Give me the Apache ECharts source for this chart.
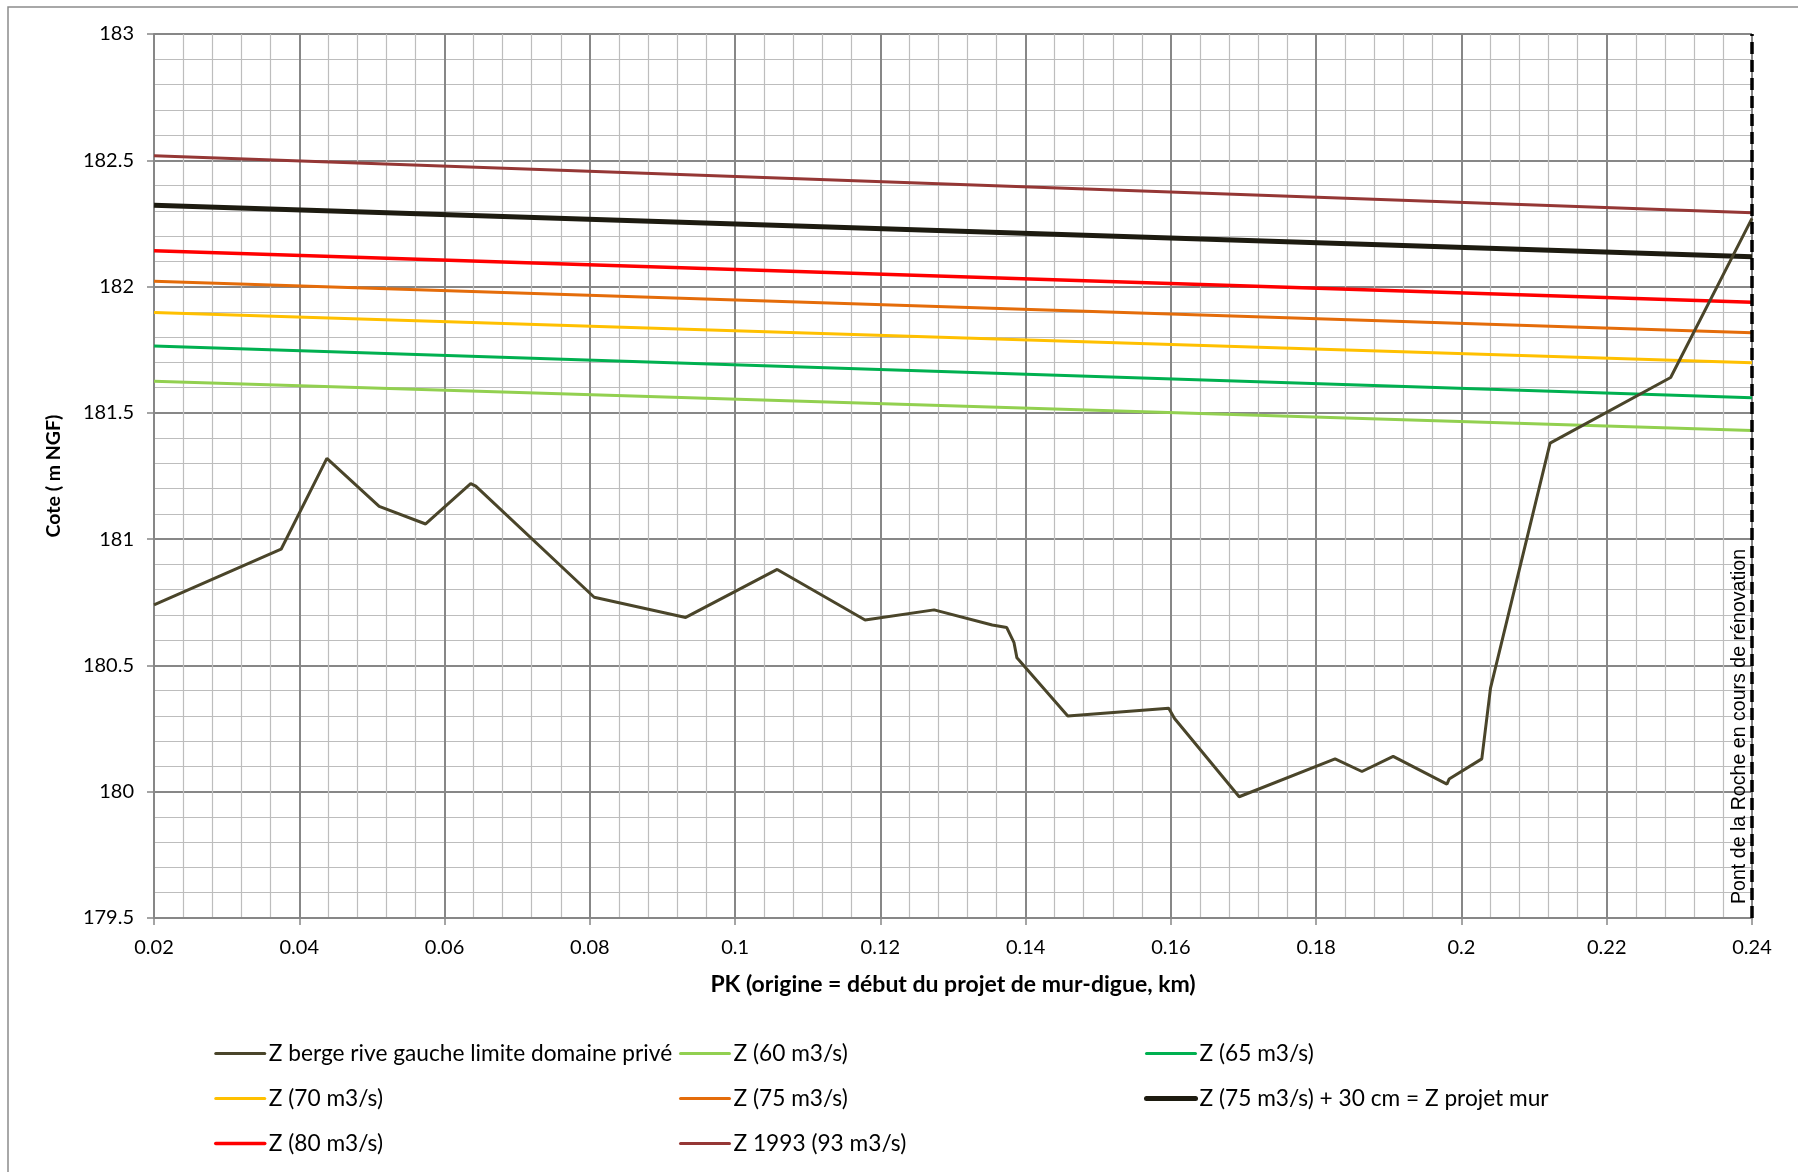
<!DOCTYPE html>
<html><head><meta charset="utf-8">
<script src="https://cdn.jsdelivr.net/npm/echarts@6/dist/echarts.min.js"></script>
<style>html,body{margin:0;padding:0;background:#fff}#c{width:1798px;height:1172px}</style>
</head><body><div id="c"></div>
<script>
// Bank profile (left bank limit of private property)
const pkBerge = [0.02,0.0375,0.0438,0.0510,0.0574,0.0636,0.0643,0.0806,0.0932,0.1058,0.1179,0.1274,0.1354,0.1374,0.1384,0.1388,0.1458,0.1597,0.1605,0.1694,0.1826,0.1863,0.1906,0.1980,0.1983,0.2028,0.2040,0.2122,0.2288,0.2400];
const zBerge = [180.74,180.96,181.32,181.13,181.06,181.22,181.21,180.77,180.69,180.88,180.68,180.72,180.66,180.65,180.59,180.53,180.30,180.33,180.29,179.98,180.13,180.08,180.14,180.03,180.05,180.13,180.41,181.38,181.64,182.27];
// Water levels
const pkFlood = [0.02, 0.24];
const z60 = [181.625, 181.430];
const z65 = [181.765, 181.560];
const z70 = [181.897, 181.698];
const z75 = [182.021, 181.817];
const zMur = [182.322, 182.118];
const z80 = [182.142, 181.938];
const z1993 = [182.518, 182.292];
const bridgePK = 0.24;
const bridgeLabel = 'Pont de la Roche en cours de rénovation';

const names = {
  berge: 'Z berge rive gauche limite domaine privé',
  q60: 'Z (60 m3/s)', q65: 'Z (65 m3/s)', q70: 'Z (70 m3/s)', q75: 'Z (75 m3/s)',
  mur: 'Z (75 m3/s) + 30 cm = Z projet mur', q80: 'Z (80 m3/s)', q93: 'Z 1993 (93 m3/s)'
};
const zip = (xs, ys) => xs.map((x, i) => [x, ys[i]]);
const FONT = 'Lato, "Open Sans", sans-serif';

function line(name, xs, ys, color, width, z) {
  return { name, type: 'line', data: zip(xs, ys), showSymbol: false, symbol: 'none',
    lineStyle: { color, width }, itemStyle: { color }, z: z || 2, animation: false };
}

const chart = echarts.init(document.getElementById('c'));
const legendCommon = { orient: 'vertical', top: 1042, padding: 0, itemGap: 22, itemWidth: 49, itemHeight: 1,
  itemStyle: { opacity: 0 },
  lineStyle: { width: 'inherit', cap: 'round' },
  textStyle: { fontFamily: FONT, fontSize: 22.7, color: '#000', lineHeight: 22.7, padding: [0, 0, 0, -1] },
  selectedMode: false };

chart.setOption({
  backgroundColor: '#fff',
  animation: false,
  grid: { left: 154, top: 34, width: 1598, height: 884 },
  xAxis: {
    type: 'value', min: 0.02, max: 0.24, interval: 0.02,
    name: 'PK (origine = début du projet de mur-digue, km)', nameLocation: 'middle', nameGap: 55,
    nameTextStyle: { fontFamily: FONT, fontSize: 23, fontWeight: 'bold', color: '#000' },
    axisLine: { show: true, onZero: false, lineStyle: { color: '#878787', width: 2 } },
    axisTick: { show: true, length: 7, lineStyle: { color: '#878787', width: 1.5 } },
    axisLabel: { margin: 20, fontFamily: FONT, fontSize: 20, color: '#000',
      formatter: v => String(parseFloat(v.toFixed(4))) },
    splitLine: { show: true, lineStyle: { color: '#878787', width: 2 } },
    minorTick: { show: true, splitNumber: 5, length: 0 },
    minorSplitLine: { show: true, lineStyle: { color: '#bdbdbd', width: 1.2 } }
  },
  yAxis: {
    type: 'value', min: 179.5, max: 183, interval: 0.5,
    name: 'Cote ( m NGF)', nameLocation: 'middle', nameGap: 90,
    nameTextStyle: { fontFamily: FONT, fontSize: 19.5, fontWeight: 'bold', color: '#000' },
    axisLine: { show: true, lineStyle: { color: '#878787', width: 2 } },
    axisTick: { show: true, length: 7, lineStyle: { color: '#878787', width: 1.5 } },
    axisLabel: { margin: 20, fontFamily: FONT, fontSize: 20, color: '#000',
      formatter: v => String(parseFloat(v.toFixed(2))) },
    splitLine: { show: true, lineStyle: { color: '#878787', width: 2 } },
    minorTick: { show: true, splitNumber: 5, length: 0 },
    minorSplitLine: { show: true, lineStyle: { color: '#bdbdbd', width: 1.2 } }
  },
  legend: [
    Object.assign({ left: 214, data: [names.berge, names.q70, names.q80] }, legendCommon),
    Object.assign({ left: 679, data: [names.q60, names.q75, names.q93] }, legendCommon),
    Object.assign({ left: 1144, data: [names.q65, names.mur] }, legendCommon)
  ],
  series: [
    line(names.q60, pkFlood, z60, '#92D050', 3),
    line(names.q65, pkFlood, z65, '#00B050', 3),
    line(names.q70, pkFlood, z70, '#FFC000', 3),
    line(names.q75, pkFlood, z75, '#E46C0A', 3),
    line(names.mur, pkFlood, zMur, '#1D1B10', 5),
    line(names.q80, pkFlood, z80, '#FF0000', 3.5),
    line(names.q93, pkFlood, z1993, '#953735', 3),
    Object.assign(line(names.berge, pkBerge, zBerge, '#4A452A', 3, 3), {
      markLine: { silent: true, symbol: 'none', animation: false,
        lineStyle: { color: '#000', width: 3.5, type: [12, 6] }, label: { show: false },
        data: [{ xAxis: bridgePK }] }
    })
  ]
});

const p = chart.convertToPixel({ gridIndex: 0 }, [bridgePK, 179.5]);
chart.setOption({
  graphic: [
    { type: 'rect', shape: { x: 8, y: 7, width: 1900, height: 1300 }, silent: true,
      style: { fill: 'none', stroke: '#8c8c8c', lineWidth: 1.5 }, z: -10 },
    { type: 'text', x: p[0] - 12, y: p[1] - 14, rotation: Math.PI / 2, silent: true, z: 10,
      style: { text: bridgeLabel, fontFamily: '"Liberation Sans", Arial, sans-serif', fontSize: 19.6,
        fill: '#000', align: 'left', verticalAlign: 'middle' } }
  ]
});
</script></body></html>
